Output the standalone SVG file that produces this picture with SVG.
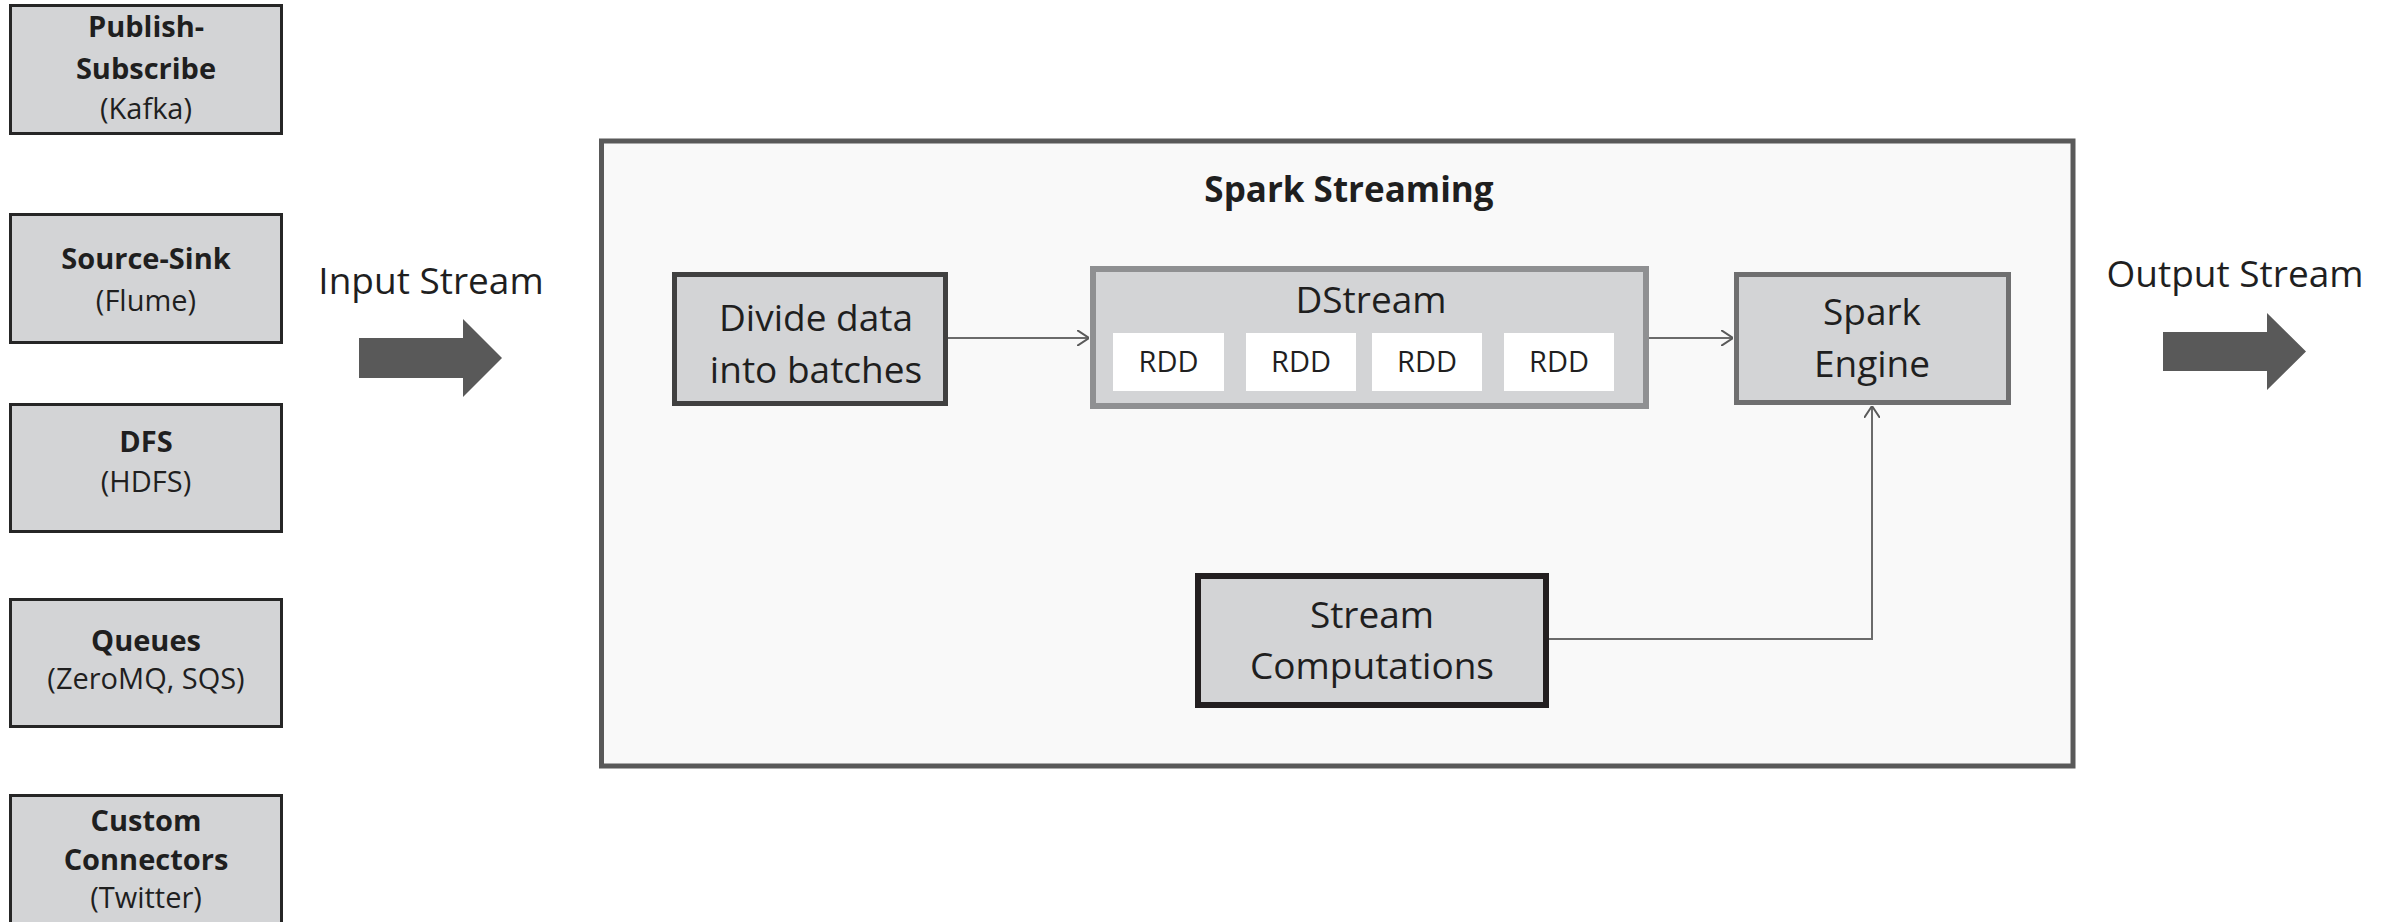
<svg xmlns="http://www.w3.org/2000/svg" width="2397" height="922" viewBox="0 0 2397 922">
  <style>
    text { font-family: "Open Sans", "Liberation Sans", sans-serif; fill: #1f1f1f; text-anchor: middle; }
    .src { fill: #d3d4d6; stroke: #262626; stroke-width: 3; }
    .lbl-b { font-size: 29px; font-weight: bold; }
    .lbl { font-size: 29px; }
    .big { font-size: 37px; }
    .node { fill: #d3d4d6; }
    .rdd { fill: #ffffff; }
    .rddt { font-size: 29px; }
    .conn { fill: none; stroke: #6b6b6b; stroke-width: 2; }
    .fat { fill: #595959; }
  </style>
  <defs>
    <marker id="open" viewBox="0 0 12 16" refX="12" refY="8" markerWidth="12" markerHeight="16" markerUnits="userSpaceOnUse" orient="auto">
      <path d="M0,0 L12,8 L0,16" fill="none" stroke="#5a5a5a" stroke-width="2"/>
    </marker>
  </defs>
  <rect width="2397" height="922" fill="#ffffff"/>

  <g id="publish-subscribe">
    <rect class="src" x="10.5" y="5.5" width="271" height="128"/>
    <text class="lbl-b" x="146" y="37">Publish-</text>
    <text class="lbl-b" x="146" y="79">Subscribe</text>
    <text class="lbl" x="146" y="119">(Kafka)</text>
  </g>
  <g id="source-sink">
    <rect class="src" x="10.5" y="214.5" width="271" height="128"/>
    <text class="lbl-b" x="146" y="269">Source-Sink</text>
    <text class="lbl" x="146" y="311">(Flume)</text>
  </g>
  <g id="dfs">
    <rect class="src" x="10.5" y="404.5" width="271" height="127"/>
    <text class="lbl-b" x="146" y="452">DFS</text>
    <text class="lbl" x="146" y="492">(HDFS)</text>
  </g>
  <g id="queues">
    <rect class="src" x="10.5" y="599.5" width="271" height="127"/>
    <text class="lbl-b" x="146" y="651">Queues</text>
    <text class="lbl" x="146" y="689">(ZeroMQ, SQS)</text>
  </g>
  <g id="custom-connectors">
    <rect class="src" x="10.5" y="795.5" width="271" height="135"/>
    <text class="lbl-b" x="146" y="831">Custom</text>
    <text class="lbl-b" x="146" y="870">Connectors</text>
    <text class="lbl" x="146" y="908">(Twitter)</text>
  </g>

  <g id="input-stream">
    <text class="big" x="431" y="294">Input Stream</text>
    <path class="fat" d="M359,338 L463,338 L463,319 L502,358 L463,397 L463,378 L359,378 Z"/>
  </g>
  <g id="output-stream">
    <text class="big" x="2235" y="287">Output Stream</text>
    <path class="fat" d="M2163,332 L2267,332 L2267,313 L2306,351.5 L2267,390 L2267,371 L2163,371 Z"/>
  </g>

  <g id="spark-streaming">
    <rect x="601.5" y="141" width="1471.5" height="625" fill="#f9f9f9" stroke="#595959" stroke-width="5"/>
    <text x="1349" y="202" font-size="35" font-weight="bold">Spark Streaming</text>
  </g>

  <g id="divide-data">
    <rect class="node" x="674.5" y="274.5" width="271" height="129" stroke="#404040" stroke-width="5"/>
    <text class="big" x="816" y="331">Divide data</text>
    <text class="big" x="816" y="383">into batches</text>
  </g>

  <g id="dstream">
    <rect class="node" x="1093" y="269" width="553" height="137" stroke="#8f9092" stroke-width="6"/>
    <text x="1371" y="313" font-size="37">DStream</text>
    <rect class="rdd" x="1113" y="333" width="111" height="58"/>
    <rect class="rdd" x="1246" y="333" width="110" height="58"/>
    <rect class="rdd" x="1372" y="333" width="110" height="58"/>
    <rect class="rdd" x="1504" y="333" width="110" height="58"/>
    <text class="rddt" x="1168.5" y="372">RDD</text>
    <text class="rddt" x="1301" y="372">RDD</text>
    <text class="rddt" x="1427" y="372">RDD</text>
    <text class="rddt" x="1559" y="372">RDD</text>
  </g>

  <g id="spark-engine">
    <rect class="node" x="1736.5" y="274.5" width="272" height="128" stroke="#6f6f70" stroke-width="5"/>
    <text class="big" x="1872" y="325">Spark</text>
    <text class="big" x="1872" y="377">Engine</text>
  </g>

  <g id="stream-computations">
    <rect class="node" x="1198" y="576" width="348" height="129" stroke="#231f20" stroke-width="6"/>
    <text class="big" x="1372" y="628">Stream</text>
    <text class="big" x="1372" y="679">Computations</text>
  </g>

  <g id="connectors">
    <path class="conn" d="M948,338 L1089,338" marker-end="url(#open)"/>
    <path class="conn" d="M1649,338 L1733,338" marker-end="url(#open)"/>
    <path class="conn" d="M1549,639 L1872,639 L1872,406" marker-end="url(#open)"/>
  </g>
</svg>
